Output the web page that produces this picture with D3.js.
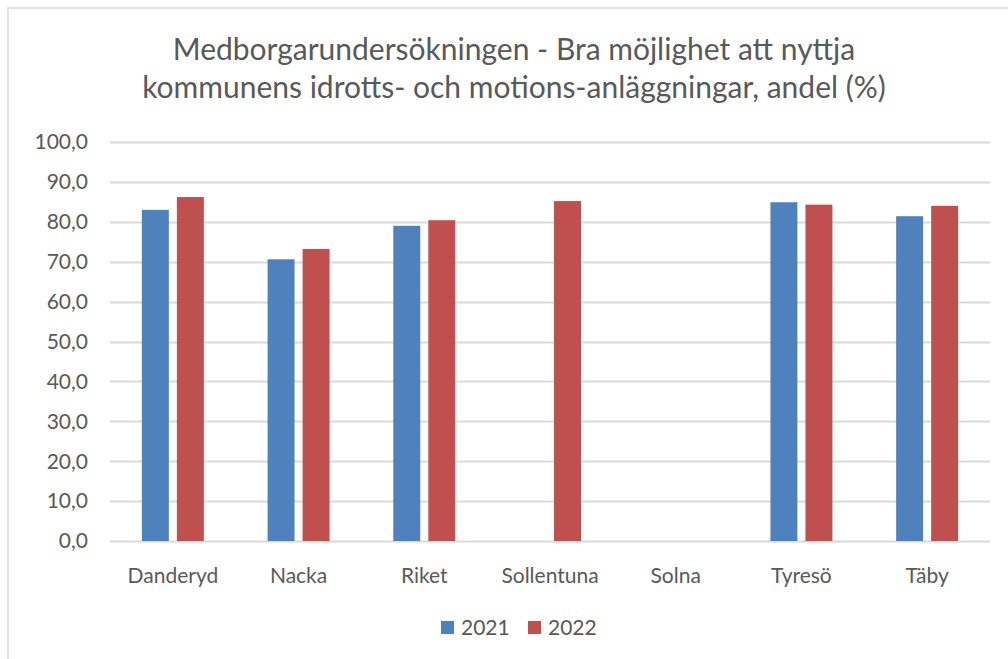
<!DOCTYPE html>
<html lang="sv">
  <head>
    <meta charset="utf-8">
    <title>Medborgarundersökningen</title>
    <script src="https://d3js.org/d3.v7.min.js"></script>
    <style>
      body { margin: 0; background: #fff; }
      text { font-family: Lato, "Open Sans", sans-serif; fill: #595959; }
    </style>
  </head>
  <body>
    <script>
      var categories = ["Danderyd", "Nacka", "Riket", "Sollentuna", "Solna", "Tyresö", "Täby"];
      var years = ["2021", "2022"];
      var values2021 = [83.0, 70.6, 79.0, null, null, 84.9, 81.4];
      var values2022 = [86.2, 73.2, 80.4, 85.2, null, 84.3, 84.0];
      var yTicks = [0, 10, 20, 30, 40, 50, 60, 70, 80, 90, 100];
      var titleLines = ["Medborgarundersökningen - Bra möjlighet att nyttja",
                        "kommunens idrotts- och motions-anläggningar, andel (%)"];
      var colors = ["#4F81BD", "#C0504D"];

      var width = 1008, height = 659;
      var margin = {top: 142, right: 18, bottom: 118, left: 110};

      var svg = d3.select("body").append("svg")
        .attr("width", width)
        .attr("height", height);

      // chart frame (right and bottom edges fall outside the crop)
      svg.append("rect")
        .attr("x", 8).attr("y", 8)
        .attr("width", 1020).attr("height", 680)
        .attr("fill", "none")
        .attr("stroke", "#D9D9D9")
        .attr("stroke-width", 1.5);

      svg.append("g").selectAll("text")
        .data(titleLines)
        .enter().append("text")
        .attr("x", 514)
        .attr("y", function(d, i) { return 60 + i * 38; })
        .attr("text-anchor", "middle")
        .style("font-size", "30px")
        .text(function(d) { return d; });

      var x = d3.scaleBand()
        .domain(categories)
        .range([margin.left, width - margin.right]);

      var x1 = d3.scaleBand()
        .domain(years)
        .range([0, x.bandwidth()])
        .paddingInner(0.23)
        .paddingOuter(0.91);

      var y = d3.scaleLinear()
        .domain([0, 100])
        .range([height - margin.bottom, margin.top]);

      var fmt = function(d) { return d3.format(".1f")(d).replace(".", ","); };

      // gridlines
      svg.append("g").selectAll("line")
        .data(yTicks)
        .enter().append("line")
        .attr("x1", margin.left).attr("x2", width - margin.right)
        .attr("y1", function(d) { return Math.round(y(d)) + 0.5; })
        .attr("y2", function(d) { return Math.round(y(d)) + 0.5; })
        .attr("stroke", "#D9D9D9")
        .attr("stroke-width", 2);

      svg.append("g").selectAll("text")
        .data(yTicks)
        .enter().append("text")
        .attr("x", 88)
        .attr("y", function(d) { return y(d); })
        .attr("dy", "0.35em")
        .attr("text-anchor", "end")
        .style("font-size", "21px")
        .text(fmt);

      var series = [values2021, values2022];
      var barData = [];
      categories.forEach(function(c, i) {
        years.forEach(function(yr, j) {
          if (series[j][i] != null) barData.push({cat: c, year: yr, value: series[j][i], k: j});
        });
      });

      svg.append("g").selectAll("rect")
        .data(barData)
        .enter().append("rect")
        .attr("x", function(d) { return x(d.cat) + x1(d.year); })
        .attr("width", x1.bandwidth())
        .attr("y", function(d) { return y(d.value); })
        .attr("height", function(d) { return y(0) - y(d.value); })
        .attr("fill", function(d) { return colors[d.k]; });

      svg.append("g").selectAll("text")
        .data(categories)
        .enter().append("text")
        .attr("x", function(d) { return x(d) + x.bandwidth() / 2; })
        .attr("y", 583)
        .attr("text-anchor", "middle")
        .style("font-size", "21px")
        .text(function(d) { return d; });

      // legend
      var legend = svg.append("g").selectAll("g")
        .data(years)
        .enter().append("g")
        .attr("transform", function(d, i) { return "translate(" + (441 + i * 87) + ",621)"; });

      legend.append("rect")
        .attr("width", 13).attr("height", 13)
        .attr("fill", function(d, i) { return colors[i]; });

      legend.append("text")
        .attr("x", 20).attr("y", 7)
        .attr("dy", "0.35em")
        .style("font-size", "21px")
        .text(function(d) { return d; });
    </script>
  </body>
</html>
